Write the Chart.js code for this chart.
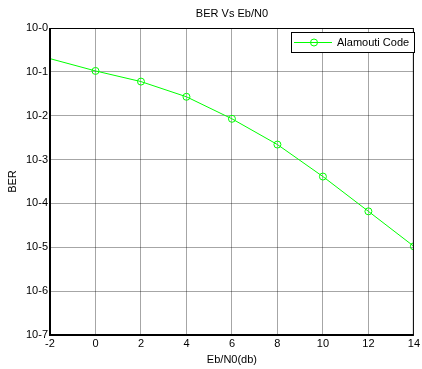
<!DOCTYPE html>
<html>
<head>
<meta charset="utf-8">
<script src="https://cdn.jsdelivr.net/npm/chart.js@4/dist/chart.umd.min.js"></script>
<style>
  html, body { margin: 0; padding: 0; background: #fff; }
</style>
</head>
<body>
<canvas id="c" width="422" height="369"></canvas>
<script>
"use strict";

// Eb/N0 (dB) vs BER. First point has no marker in the original.
const snrDb = [-2, 0, 2, 4, 6, 8, 10, 12, 14];
const berAlamouti = [0.2, 0.105, 0.06, 0.027, 0.0085, 0.0022, 4.1e-4, 6.6e-5, 1.05e-5];
const yExponents = [0, -1, -2, -3, -4, -5, -6, -7];

const FONT = "'Liberation Sans', Arial, sans-serif";
const GREEN = "#00ff00";

// MATLAB-ish box, title and legend drawn on top of the chart area.
const decor = {
  id: "decor",
  afterDraw(chart) {
    const { ctx, chartArea: a } = chart;
    ctx.save();
    ctx.strokeStyle = "#000";
    ctx.lineWidth = 1;
    ctx.strokeRect(a.left + 0.5, a.top + 0.5, a.right - a.left - 1, a.bottom - a.top - 1);
    ctx.lineWidth = 2;
    ctx.beginPath();
    ctx.moveTo(a.left, a.top);
    ctx.lineTo(a.left, a.bottom);
    ctx.lineTo(a.right, a.bottom);
    ctx.stroke();

    ctx.fillStyle = "#000";
    ctx.font = `11px ${FONT}`;
    ctx.textAlign = "center";
    ctx.textBaseline = "middle";
    ctx.fillText("BER Vs Eb/N0", (a.left + a.right) / 2, 14);

    // legend
    const lx = 291, ly = 32, lw = 123, lh = 20;
    ctx.fillStyle = "#fff";
    ctx.fillRect(lx, ly, lw, lh);
    ctx.lineWidth = 1;
    ctx.strokeStyle = "#000";
    ctx.strokeRect(lx + 0.5, ly + 0.5, lw, lh);
    const cy = ly + lh / 2 + 0.5;
    ctx.strokeStyle = GREEN;
    ctx.beginPath();
    ctx.moveTo(294, cy);
    ctx.lineTo(332, cy);
    ctx.stroke();
    ctx.beginPath();
    ctx.arc(314, cy, 3.5, 0, Math.PI * 2);
    ctx.stroke();
    ctx.fillStyle = "#000";
    ctx.textAlign = "left";
    ctx.fillText(chart.data.datasets[0].label, 337, cy);
    ctx.restore();
  }
};

new Chart(document.getElementById("c"), {
  type: "line",
  data: {
    datasets: [{
      label: "Alamouti Code",
      data: snrDb.map((x, i) => ({ x, y: berAlamouti[i] })),
      borderColor: GREEN,
      backgroundColor: "transparent",
      borderWidth: 1,
      pointStyle: "circle",
      pointRadius: (c) => (c.dataIndex === 0 ? 0 : 3.5),
      pointBorderColor: GREEN,
      pointBackgroundColor: "transparent",
      pointBorderWidth: 1,
      tension: 0,
    }],
  },
  options: {
    responsive: false,
    animation: false,
    layout: { padding: { top: 28, right: 4, left: 0, bottom: 0 } },
    plugins: { legend: { display: false }, title: { display: false }, tooltip: { enabled: false } },
    scales: {
      x: {
        type: "linear",
        min: -2,
        max: 14,
        ticks: { stepSize: 2, color: "#000", font: { family: FONT, size: 11 }, padding: 2 },
        grid: { color: "rgba(0,0,0,0.35)", drawTicks: false },
        border: { display: false },
        title: { display: true, text: "Eb/N0(db)", color: "#000", font: { family: FONT, size: 11 }, padding: { top: 0, bottom: 2 } },
        afterFit: (s) => { s.height = 34; },
      },
      y: {
        type: "logarithmic",
        min: 1e-7,
        max: 1,
        afterBuildTicks: (s) => { s.ticks = yExponents.map((e) => ({ value: Math.pow(10, e) })); },
        ticks: {
          color: "#000",
          font: { family: FONT, size: 11 },
          padding: 2,
          callback: (v) => "10-" + Math.abs(Math.round(Math.log10(v))),
        },
        grid: { color: "rgba(0,0,0,0.35)", drawTicks: false },
        border: { display: false },
        title: { display: true, text: "BER", color: "#000", font: { family: FONT, size: 11 }, padding: { top: 6, bottom: 0 } },
        afterFit: (s) => { s.width = 50; },
      },
    },
  },
  plugins: [decor],
});
</script>
</body>
</html>
